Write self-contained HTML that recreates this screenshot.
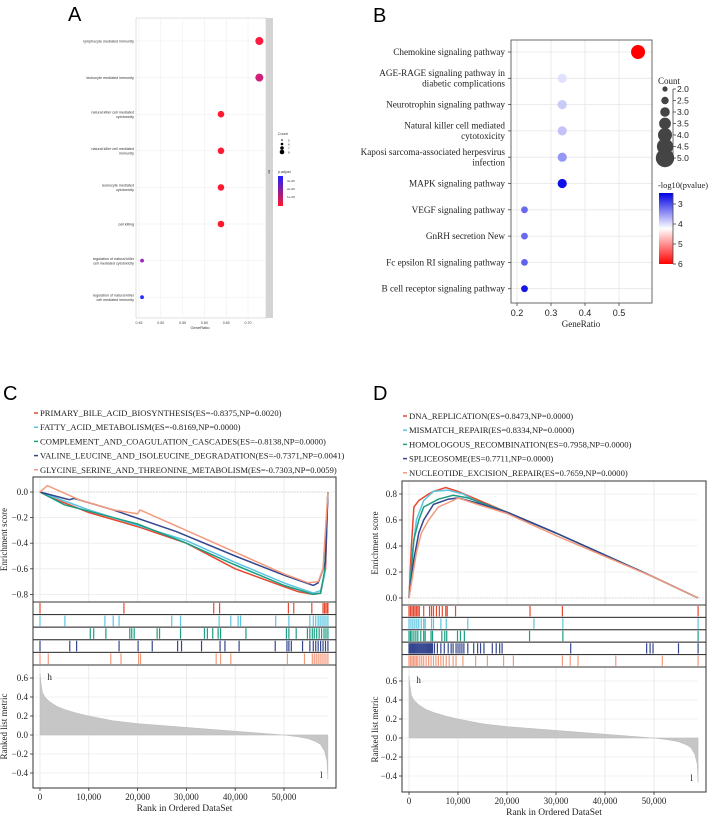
<!DOCTYPE html>
<html><head><meta charset="utf-8"><style>
html,body{margin:0;padding:0;background:#fff;}
svg{display:block;}
.sa{font-family:"Liberation Sans",sans-serif;}
.ss{font-family:"Liberation Serif",serif;}
</style></head><body>
<svg id="fig" width="709" height="817" viewBox="0 0 709 817" xmlns="http://www.w3.org/2000/svg"></svg>
<script>
// ---------- Panel A data ----------
const aTerms=["lymphocyte mediated immunity","leukocyte mediated immunity","natural killer cell mediated|cytotoxicity","natural killer cell mediated|immunity","leukocyte mediated|cytotoxicity","cell killing","regulation of natural killer|cell mediated cytotoxicity","regulation of natural killer|cell mediated immunity"];
const aRatio=[0.726,0.726,0.638,0.638,0.638,0.638,0.457,0.457];
const aCount=[8,8,7,7,7,7,5,5];
const aColor=["#ff1a40","#d0207a","#ff1a30","#ff1a30","#ff1a30","#ff1a30","#a020c8","#2030ff"];
const aTicks=[0.45,0.50,0.55,0.60,0.65,0.70];
// ---------- Panel B data ----------
const bTerms=["Chemokine signaling pathway","AGE-RAGE signaling pathway in|diabetic complications","Neurotrophin signaling pathway","Natural killer cell mediated|cytotoxicity","Kaposi sarcoma-associated herpesvirus|infection","MAPK signaling pathway","VEGF signaling pathway","GnRH secretion New","Fc epsilon RI signaling pathway","B cell receptor signaling pathway"];
const bRatio=[0.556,0.333,0.333,0.333,0.333,0.333,0.222,0.222,0.222,0.222];
const bCount=[5,3,3,3,3,3,2,2,2,2];
const bLogP=[6.0,4.1,3.95,3.9,3.6,2.7,3.3,3.3,3.25,2.75];
const bTicks=[0.2,0.3,0.4,0.5];
// ---------- Panel C data (rank in thousands) ----------
const cNames=["PRIMARY_BILE_ACID_BIOSYNTHESIS(ES=-0.8375,NP=0.0020)","FATTY_ACID_METABOLISM(ES=-0.8169,NP=0.0000)","COMPLEMENT_AND_COAGULATION_CASCADES(ES=-0.8138,NP=0.0000)","VALINE_LEUCINE_AND_ISOLEUCINE_DEGRADATION(ES=-0.7371,NP=0.0041)","GLYCINE_SERINE_AND_THREONINE_METABOLISM(ES=-0.7303,NP=0.0059)"];
const cRank=[[0,2,10,20,30,36,40,50,53,56,57.5,58.5,59],[0,10,20,30,40,50,56,57.5,58.3,59,59,59,59],[0,5,10,20,30,40,50,56,57.5,58.3,59,59,59],[0,6,7,15,28,40,50,56,57,58.5,59,59,59],[0,1.5,8,15,20,20.5,30,40,50,55,57,58,59]];
const cES=[[0,-0.04,-0.16,-0.27,-0.4,-0.52,-0.6,-0.74,-0.78,-0.8,-0.79,-0.6,0],[0,-0.14,-0.26,-0.38,-0.55,-0.71,-0.79,-0.77,-0.65,0,0,0,0],[0,-0.1,-0.15,-0.25,-0.4,-0.57,-0.73,-0.8,-0.79,-0.62,0,0,0],[0,-0.06,-0.05,-0.14,-0.31,-0.5,-0.65,-0.73,-0.71,-0.55,0,0,0],[0,0.05,-0.06,-0.14,-0.17,-0.14,-0.3,-0.47,-0.64,-0.71,-0.7,-0.6,0]];
const cHits=[[0,17.2,35.6,36.8,50.9,52,55.7,58,58.3,58.6,58.9,59],[0,5.1,13.3,15,16.2,27,28.8,36.7,39.1,40.6,41.1,48.3,51,55.3,56,56.5,57,57.4,57.8,58.2,58.6,59],[10.3,11,13.5,18.4,18.8,19.3,24,24.5,28.8,33.7,34.3,35.4,36.5,37,42.2,50.5,51,52.5,54.8,55.3,55.8,56.2,56.7,57.2,57.7,58.2,58.6,59],[0,6.1,7.5,16.2,20.1,23,28.2,29,33.1,36.9,37.9,40.8,48.2,50.6,51,51.5,53.8,55.3,56,56.5,57,57.5,58,58.5,59],[0,1.7,14.5,16.6,20.2,20.6,36.1,37,39.1,50.7,54.2,55.8,56.2,56.6,57,57.4,57.8,58.2,58.6,59]];
const cColors=["#e8472f","#5bc4e0","#1a9e82","#34468f","#f39a7d"];
// ---------- Panel D data ----------
const dNames=["DNA_REPLICATION(ES=0.8473,NP=0.0000)","MISMATCH_REPAIR(ES=0.8334,NP=0.0000)","HOMOLOGOUS_RECOMBINATION(ES=0.7958,NP=0.0000)","SPLICEOSOME(ES=0.7711,NP=0.0000)","NUCLEOTIDE_EXCISION_REPAIR(ES=0.7659,NP=0.0000)"];
const dRank=[[0,0.5,1,2,4,5,7.5,10,20,30,40,50,59],[0,0.7,1.5,3,5,8,11,14,20,30,40,50,59],[0,1,2,3,6,9,12,15,20,30,40,50,59],[0,1,2,3,5,8,10,14,20,30,40,50,59],[0,1.5,2.5,4,6,9,10,14,20,30,40,50,59]];
const dES=[[0,0.4,0.7,0.75,0.8,0.82,0.85,0.82,0.66,0.5,0.33,0.16,0],[0,0.35,0.6,0.75,0.82,0.83,0.8,0.74,0.66,0.5,0.33,0.16,0],[0,0.45,0.6,0.7,0.76,0.79,0.77,0.73,0.66,0.5,0.33,0.16,0],[0,0.3,0.5,0.6,0.72,0.76,0.77,0.73,0.66,0.5,0.33,0.16,0],[0,0.35,0.5,0.6,0.7,0.75,0.77,0.72,0.65,0.48,0.32,0.16,0]];
const dHits=[[0,0.3,0.6,0.9,1.2,1.5,1.8,2.1,3,4.2,4.6,5,5.6,6.2,6.8,7.5,7.8,9.5,24.7,31.3,59],[0,0.4,0.8,1.2,1.6,2,2.5,3,3.3,4.6,5,6.5,7.6,12,25.5,31.4,59],[0,0.3,0.6,1,1.4,1.8,2.4,3,3.3,4.5,4.8,6.7,7.3,7.7,9.9,10.5,11.3,24.6,31.4,59],[0,0.2,0.4,0.6,0.8,1,1.2,1.4,1.6,1.8,2,2.2,2.4,2.6,2.8,3,3.2,3.4,3.6,3.8,4,4.2,4.4,4.6,4.8,5.2,5.8,6.5,7.2,8,8.6,9,9.6,10,10.4,10.8,11.2,12,13.2,14,14.6,15.3,17,17.8,18.5,19,33,48.5,49.2,49.8,55,59],[0,0.3,0.6,0.9,1.2,1.5,1.8,2.2,2.6,3,3.5,4,4.5,5,5.5,6,6.5,7,7.6,8.2,9,9.6,11,13.6,16,19.3,21.3,31.3,32.9,34.5,42.2,51.7,59]];
const dColors=["#e8472f","#5bc4e0","#1a9e82","#34468f","#f39a7d"];
// ---------- Ranked list metric (shared shape) ----------
const metricRank=[0,0.2,0.5,1,2,3.5,5,7.5,10,15,20,25,30,35,40,45,50,53,55,56.5,57.5,58.3,58.8,59];
const metricVal=[0.65,0.55,0.45,0.4,0.35,0.3,0.27,0.23,0.2,0.15,0.12,0.1,0.08,0.06,0.04,0.02,0.0,-0.02,-0.04,-0.07,-0.1,-0.17,-0.27,-0.47];
const esTicksC=[0.0,-0.2,-0.4,-0.6,-0.8];
const esTicksD=[0.0,0.2,0.4,0.6,0.8];
const metricTicks=[0.6,0.4,0.2,0.0,-0.2,-0.4];
const rankTicks=[0,10000,20000,30000,40000,50000];

const NS="http://www.w3.org/2000/svg";
const svg=document.getElementById('fig');
function mk(tag,attrs,parent,text){const e=document.createElementNS(NS,tag);for(const k in attrs)e.setAttribute(k,attrs[k]);if(text!==undefined)e.textContent=text;(parent||svg).appendChild(e);return e;}
function grp(name){const g=mk('g',{});return g;}

// ========== Panel A ==========
(function(){
const g=grp('panel-a');
const t=mk('text',{x:68,y:21,'font-size':20,class:'sa'},g,'A');
const L=136,R=266,T=18,B=318;
mk('rect',{x:L,y:T,width:R-L,height:B-T,fill:'#fff',stroke:'#ccc','stroke-width':0.6},g);
const strip=mk('rect',{x:266,y:18,width:7,height:300,fill:'#d4d4d4'},g);
const xs=v=>139+(v-0.45)/0.05*21.8;
const ys=i=>41+i*36.6;
aTicks.forEach(v=>{mk('line',{x1:xs(v),x2:xs(v),y1:T,y2:B,stroke:'#ececec','stroke-width':0.5},g);
 const tl=mk('text',{x:xs(v),y:324,'font-size':3.6,'text-anchor':'middle',fill:'#444',class:'sa'},g,v.toFixed(2));});
const xt=mk('text',{x:200,y:329,'font-size':4,'text-anchor':'middle',fill:'#333',class:'sa'},g,'GeneRatio');
aTerms.forEach((term,i)=>{
 mk('line',{x1:L,x2:R,y1:ys(i),y2:ys(i),stroke:'#ececec','stroke-width':0.5},g);
 const parts=term.split('|');
 parts.forEach((p,j)=>{const tx=mk('text',{x:134,y:ys(i)+1.5+(j-(parts.length-1)/2)*4.5,'font-size':3.7,'text-anchor':'end',fill:'#333',class:'sa'},g,p);});
 const c=mk('circle',{cx:xs(aRatio[i]),cy:ys(i),r:1.2+(aCount[i]-4)*0.7,fill:aColor[i]},g);
 
});
mk('text',{x:278,y:135,'font-size':3.6,fill:'#333',class:'sa'},g,'Count');
[5,6,7,8].forEach((v,k)=>{mk('circle',{cx:282,cy:140+k*4,r:0.8+k*0.5,fill:'#000'},g);mk('text',{x:288,y:141.3+k*4,'font-size':3,fill:'#333',class:'sa'},g,String(v));});
mk('text',{x:278,y:173,'font-size':3.6,fill:'#333',class:'sa'},g,'p.adjust');
const def=mk('defs',{},g);const lg=mk('linearGradient',{id:'gA',x1:0,y1:0,x2:0,y2:1},def);
mk('stop',{offset:'0','stop-color':'#2020ff'},lg);mk('stop',{offset:'1','stop-color':'#ff1a30'},lg);
mk('rect',{x:278,y:176,width:5,height:30,fill:'url(#gA)'},g);
['3e-09','2e-09','1e-09'].forEach((s,k)=>mk('text',{x:287,y:182+k*8,'font-size':3,fill:'#333',class:'sa'},g,s));
mk('text',{x:268,y:170,'font-size':3,fill:'#333',class:'sa',transform:'rotate(90 268 170)'},g,'BP');
})();

// ========== Panel B ==========
(function(){
const g=grp('panel-b');
const t=mk('text',{x:373,y:22,'font-size':20,class:'sa'},g,'B');
const L=511,R=652,T=40,B=303;
const xs=v=>517+(v-0.2)/0.1*34;
const ys=i=>52+i*26.3;
bTicks.forEach(v=>mk('line',{x1:xs(v),x2:xs(v),y1:T,y2:B,stroke:'#e6e6e6','stroke-width':0.8},g));
bTerms.forEach((term,i)=>mk('line',{x1:L,x2:R,y1:ys(i),y2:ys(i),stroke:'#e6e6e6','stroke-width':0.8},g));
mk('rect',{x:L,y:T,width:R-L,height:B-T,fill:'none',stroke:'#444','stroke-width':0.8},g);
function col(v){
 if(v<=4.3){const f=(v-2.6)/1.7;const c=Math.round(0+f*255),b=Math.round(230+f*25);return `rgb(${c},${c},${b})`;}
 const f=(v-4.3)/1.7;const c=Math.round(255-f*255);return `rgb(255,${c},${c})`;}
bTerms.forEach((term,i)=>{
 const parts=term.split('|');
 mk('line',{x1:L-3,x2:L,y1:ys(i),y2:ys(i),stroke:'#444','stroke-width':0.8},g);
 parts.forEach((p,j)=>{const tx=mk('text',{x:505,y:ys(i)+3+(j-(parts.length-1)/2)*10.5,'font-size':9.2,'text-anchor':'end',fill:'#222',class:'ss'},g,p);});
 const c=mk('circle',{cx:xs(bRatio[i]),cy:ys(i),r:3.4+(bCount[i]-2)*1.2,fill:col(bLogP[i])},g);
 
});
bTicks.forEach(v=>{mk('line',{x1:xs(v),x2:xs(v),y1:B,y2:B+3,stroke:'#444','stroke-width':0.8},g);
 mk('text',{x:xs(v),y:B+13,'font-size':9,'text-anchor':'middle',fill:'#222',class:'sa'},g,v.toFixed(1));});
const xt=mk('text',{x:581,y:327,'font-size':9,'text-anchor':'middle',fill:'#222',class:'ss'},g,'GeneRatio');
mk('text',{x:658,y:84,'font-size':9,fill:'#222',class:'ss'},g,'Count');
mk('line',{x1:673,x2:673,y1:89,y2:158,stroke:'#444','stroke-width':0.8},g);
[2.0,2.5,3.0,3.5,4.0,4.5,5.0].forEach((v,k)=>{const y=89+k*11.5;mk('circle',{cx:665,cy:y,r:2.6+k*1.1,fill:'#444'},g);
 mk('line',{x1:673,x2:676,y1:y,y2:y,stroke:'#444','stroke-width':0.8},g);mk('text',{x:677,y:y+3,'font-size':8.5,fill:'#222',class:'sa'},g,v.toFixed(1));});
mk('text',{x:658,y:188,'font-size':8.5,fill:'#222',class:'ss',textLength:50,lengthAdjust:'spacingAndGlyphs'},g,'-log10(pvalue)');
const def=mk('defs',{},g);const lg=mk('linearGradient',{id:'gB',x1:0,y1:0,x2:0,y2:1},def);
mk('stop',{offset:'0','stop-color':'#0000e6'},lg);mk('stop',{offset:'0.5','stop-color':'#ffffff'},lg);mk('stop',{offset:'1','stop-color':'#ff0000'},lg);
const cb=mk('rect',{x:659,y:193,width:14,height:71,fill:'url(#gB)'},g);
mk('line',{x1:673,x2:673,y1:193,y2:264,stroke:'#444','stroke-width':0.8},g);
[3,4,5,6].forEach((v,k)=>{const y=204+k*20;mk('line',{x1:673,x2:676,y1:y,y2:y,stroke:'#444','stroke-width':0.8},g);mk('text',{x:678,y:y+3,'font-size':8.5,fill:'#222',class:'sa'},g,String(v));});
})();

// ========== GSEA panels ==========
function gsea(o){
 const g=grp(o.name);
 const t=mk('text',{x:o.lx,y:o.ly,'font-size':20,class:'sa'},g,o.label);
 o.names.forEach((n,i)=>{const y=o.legY+i*14.2;
  mk('line',{x1:o.legX-6,x2:o.legX-2,y1:y-3,y2:y-3,stroke:o.colors[i],'stroke-width':1.5},g);
  const tx=mk('text',{x:o.legX,y:y,'font-size':8.6,fill:'#222',class:'ss'},g,n);});
 const xs=r=>o.x0+r*o.kx;
 const L=o.L,R=o.R;
 const es=v=>o.esZero - v/0.2*o.esStep;
 rankTicks.forEach(v=>{mk('line',{x1:xs(v/1000),x2:xs(v/1000),y1:o.esT,y2:o.mB,stroke:'#e6e6e6','stroke-width':0.8},g);});
 o.esTicks.forEach(v=>mk('line',{x1:L,x2:R-8,y1:es(v),y2:es(v),stroke:'#ececec','stroke-width':0.8},g));
 mk('line',{x1:L,x2:R,y1:es(0),y2:es(0),stroke:'#bbb','stroke-width':0.6,'stroke-dasharray':'1.5,1.5'},g);
 mk('rect',{x:L,y:o.esT,width:R-L,height:o.esB-o.esT,fill:'none',stroke:'#333','stroke-width':1},g);
 o.esTicks.forEach(v=>{mk('line',{x1:L-3,x2:L,y1:es(v),y2:es(v),stroke:'#333','stroke-width':0.8},g);
  mk('text',{x:L-5,y:es(v)+3,'font-size':9,'text-anchor':'end',fill:'#222',class:'ss'},g,(v<0?'\u2212':'')+Math.abs(v).toFixed(1));});
 const yt=mk('text',{x:0,y:0,'font-size':9,'text-anchor':'middle',fill:'#222',class:'ss',transform:`translate(${o.ytx},${(o.esT+o.esB)/2}) rotate(-90)`},g,'Enrichment score');
 o.ranks.forEach((rk,i)=>{let d='';rk.forEach((r,j)=>{d+=(j?'L':'M')+xs(r).toFixed(1)+','+es(o.es[i][j]).toFixed(1);});
  const p=mk('path',{d:d,fill:'none',stroke:o.colors[i],'stroke-width':1.5},g);});
 const hh=(o.mT-o.esB)/5;
 o.hits.forEach((hs,i)=>{const y0=o.esB+i*hh;
  mk('rect',{x:L,y:y0,width:R-L,height:hh,fill:'#fff',stroke:'#333','stroke-width':1},g);
  hs.forEach(h=>{const l=mk('line',{x1:xs(h),x2:xs(h),y1:y0+1,y2:y0+hh-1,stroke:o.colors[i],'stroke-width':1.2},g);});});
 const ms=v=>o.mZero - v/0.2*o.mStep;
 o.mTicks.forEach(v=>mk('line',{x1:L,x2:R-8,y1:ms(v),y2:ms(v),stroke:'#ececec','stroke-width':0.8},g));
 let d='M'+xs(0)+','+ms(0);metricRank.forEach((r,j)=>{d+='L'+xs(r).toFixed(1)+','+ms(metricVal[j]).toFixed(1);});d+='L'+xs(59)+','+ms(0)+'Z';
 const ar=mk('path',{d:d,fill:'#c6c6c6',stroke:'#bbb','stroke-width':0.5},g);
 mk('rect',{x:L,y:o.mT,width:R-L,height:o.mB-o.mT,fill:'none',stroke:'#333','stroke-width':1},g);
 o.mTicks.forEach(v=>{mk('line',{x1:L-3,x2:L,y1:ms(v),y2:ms(v),stroke:'#333','stroke-width':0.8},g);
  mk('text',{x:L-5,y:ms(v)+3,'font-size':9,'text-anchor':'end',fill:'#222',class:'ss'},g,(v<0?'\u2212':'')+Math.abs(v).toFixed(1));});
 mk('text',{x:xs(1.5),y:ms(0.6)+2,'font-size':9,fill:'#222',class:'ss'},g,'h');
 mk('text',{x:xs(57.4),y:ms(-0.42)+3,'font-size':9,fill:'#222',class:'ss'},g,'l');
 const mt=mk('text',{x:0,y:0,'font-size':9,'text-anchor':'middle',fill:'#222',class:'ss',transform:`translate(${o.ytx},${(o.mT+o.mB)/2}) rotate(-90)`},g,'Ranked list metric');
 rankTicks.forEach(v=>{mk('line',{x1:xs(v/1000),x2:xs(v/1000),y1:o.mB,y2:o.mB+3,stroke:'#333','stroke-width':0.8},g);
  mk('text',{x:xs(v/1000),y:o.mB+12,'font-size':9,'text-anchor':'middle',fill:'#222',class:'ss'},g,v.toLocaleString('en-US'));});
 const xt=mk('text',{x:(L+R)/2,y:o.mB+23,'font-size':9.5,'text-anchor':'middle',fill:'#222',class:'ss'},g,'Rank in Ordered DataSet');
}
gsea({name:'panel-c',label:'C',lx:3,ly:400,names:cNames,colors:cColors,legX:40,legY:416,x0:40,kx:4.88,L:33,R:336,esT:477,esB:602,esZero:492,esStep:25.6,esTicks:esTicksC,mT:665,mB:788,mZero:735,mStep:19,mTicks:metricTicks,ytx:7,ranks:cRank,es:cES,hits:cHits});
gsea({name:'panel-d',label:'D',lx:373,ly:400,names:dNames,colors:dColors,legX:409,legY:419,x0:409,kx:4.9,L:402,R:706,esT:481,esB:605,esZero:598,esStep:26,esTicks:esTicksD,mT:667,mB:792,mZero:738,mStep:19,mTicks:metricTicks,ytx:378,ranks:dRank,es:dES,hits:dHits});
</script>
</body></html>
